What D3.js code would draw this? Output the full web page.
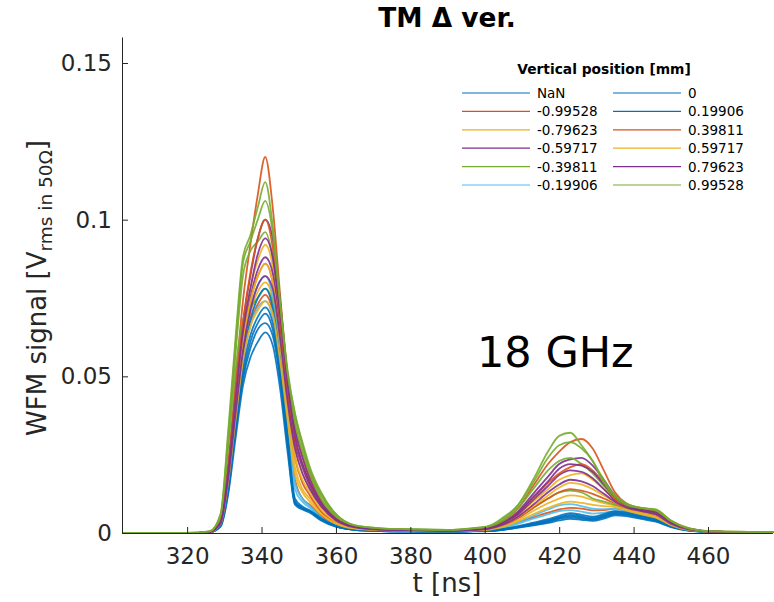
<!DOCTYPE html>
<html>
<head>
<meta charset="utf-8">
<script src="https://cdn.jsdelivr.net/npm/d3@7"></script>
<style>
  body { margin: 0; background: #fff; }
  svg { display: block; }
  text { font-family: 'DejaVu Sans', sans-serif; }
</style>
</head>
<body>
<div id="chart"></div>
<script>
// sample times of the waveforms [ns]
const timeNs = [302.5, 320, 326, 329, 331, 333, 335, 337, 339, 341,
  343, 345, 347, 349, 351, 353, 356, 360, 365, 372,
  380, 390, 397, 401, 405, 409, 413, 417, 420, 423,
  426, 429, 432, 435, 438, 442, 446, 450, 455, 462, 477.5];

const positionLabels = ['NaN', '-0.99528', '-0.79623', '-0.59717', '-0.39811', '-0.19906',
  '0', '0.19906', '0.39811', '0.59717', '0.79623', '0.99528'];

// WFM signal [mV rms], one or two waveforms per vertical position
const tracesNaN = [
  [0, 0, 0.2, 2.4, 13.5, 33, 50, 61, 67, 70, 65, 50, 29, 9.8, 7.9, 6.9, 4.3, 2.1, 1, 0.6, 0.5, 0.4, 0.6, 0.6, 1.1, 1.9, 2.8, 3.8, 4.8, 5.4, 5, 4.5, 5.3, 6.3, 6, 5, 4, 2.1, 0.8, 0.3, 0.2]
];
const tracesNeg099 = [
  [0, 0, 0.3, 4, 22, 48, 74, 92, 108, 120, 104, 76, 50, 34, 25, 18, 10.5, 5, 2.2, 1.3, 1, 0.8, 1.3, 1.8, 4, 8, 15, 22, 26, 29, 30, 27, 20, 13, 9.5, 8, 7.4, 4, 1.5, 0.5, 0.3],
  [0, 0, 0.2, 2.8, 15, 36, 55, 67, 73, 76, 71, 57, 37, 17, 11, 9, 5.5, 2.6, 1.2, 0.8, 0.6, 0.5, 0.8, 1, 2, 3.5, 5, 6.5, 7.5, 8, 7.8, 7.2, 7.3, 7.8, 7.2, 6, 4.8, 2.5, 0.9, 0.3, 0.2]
];
const tracesNeg080 = [
  [0, 0, 0.3, 3.5, 19, 42, 64, 78, 87, 92, 85, 64, 42, 27, 19, 14, 8.5, 4, 1.8, 1.1, 0.8, 0.7, 1, 1.4, 3, 6, 10, 14, 17, 18.5, 19, 17, 14, 10.5, 8.2, 7, 6, 3.1, 1.2, 0.4, 0.2],
  [0, 0, 0.3, 3.2, 17, 38, 58, 70, 77, 80, 75, 58, 38, 21, 14, 11, 6.5, 3.2, 1.5, 0.9, 0.7, 0.6, 0.9, 1.1, 2.3, 4.2, 7, 9.5, 11, 12, 11.6, 10.5, 9.5, 8.8, 7.5, 6.3, 5.2, 2.7, 1, 0.4, 0.2]
];
const tracesNeg060 = [
  [0, 0, 0.3, 3.6, 20, 44, 67, 82, 94, 100, 94, 74, 50, 33, 24, 17, 10, 4.8, 2.1, 1.2, 0.9, 0.7, 1.1, 1.6, 3.5, 7, 12.5, 18, 22, 23.5, 24, 21.5, 17, 12, 9, 7.6, 6.8, 3.5, 1.3, 0.4, 0.2],
  [0, 0, 0.3, 3.3, 18, 40, 61, 75, 84, 88, 83, 66, 45, 29, 21, 15, 9, 4.3, 1.9, 1.1, 0.8, 0.7, 1, 1.4, 3, 6, 10.5, 15, 18.5, 20, 19.5, 17.5, 14, 10.5, 8.5, 7.2, 6.2, 3.2, 1.2, 0.4, 0.2]
];
const tracesNeg040 = [
  [0, 0, 0.4, 5, 28, 57, 82, 90, 93, 96, 88, 70, 50, 37, 28, 20, 12, 5.5, 2.2, 1.4, 1.1, 0.9, 1.4, 2, 4, 8, 14, 20, 23, 24, 22, 19, 15, 11, 8.5, 7.5, 7, 3.5, 1.2, 0.4, 0.2],
  [0, 0, 0.4, 5, 27, 52, 68, 72, 75, 78, 74, 62, 48, 35, 26, 19, 11, 5, 2, 1.3, 1, 0.8, 1.2, 1.6, 3, 5, 8, 11, 13, 13.5, 13, 11, 10, 9, 8, 7, 6, 3, 1, 0.4, 0.2]
];
const tracesNeg020 = [
  [0, 0, 0.3, 3.5, 18, 40, 60, 72, 79, 82, 76, 60, 38, 16, 11, 8.5, 5, 2.5, 1.2, 0.8, 0.6, 0.5, 0.8, 1, 2, 3.5, 5.5, 7.5, 8.8, 9.2, 8.6, 7.8, 7.6, 7.8, 7, 5.8, 4.6, 2.4, 0.9, 0.3, 0.2],
  [0, 0, 0.2, 3, 15, 36, 55, 66, 72, 74, 69, 55, 35, 14, 10, 8, 4.8, 2.4, 1.1, 0.7, 0.6, 0.5, 0.7, 0.9, 1.6, 3, 4.6, 6, 7, 7.3, 6.8, 6.2, 6.5, 7, 6.4, 5.3, 4.2, 2.2, 0.8, 0.3, 0.2]
];
const tracesZero = [
  [0, 0, 0.2, 2, 12, 30, 47, 56, 61, 64, 60, 46, 26, 9, 7.5, 6.5, 4, 2, 1, 0.6, 0.5, 0.4, 0.6, 0.6, 1, 1.8, 2.6, 3.5, 4.5, 5, 4.6, 4.2, 5, 6, 5.8, 4.8, 3.8, 2, 0.8, 0.3, 0.2],
  [0, 0, 0.3, 3, 16, 37, 56, 68, 75, 78, 72, 55, 32, 11, 8.5, 7.2, 4.8, 2.3, 1.1, 0.7, 0.5, 0.4, 0.6, 0.7, 1.3, 2.2, 3.3, 4.4, 5.5, 6.3, 5.8, 5.2, 6, 7, 6.6, 5.5, 4.4, 2.3, 0.9, 0.3, 0.2]
];
const tracesPos020 = [
  [0, 0, 0.2, 2.5, 14, 34, 52, 63, 69, 72, 67, 52, 30, 10, 8, 7, 4.5, 2.2, 1.1, 0.7, 0.5, 0.4, 0.6, 0.7, 1.2, 2, 3, 4, 5, 5.8, 5.3, 4.8, 5.6, 6.6, 6.2, 5.2, 4.2, 2.2, 0.9, 0.3, 0.2],
  [0, 0, 0.2, 2.2, 13, 32, 49, 59, 65, 67, 63, 49, 28, 9.5, 7.8, 6.8, 4.2, 2.1, 1, 0.6, 0.5, 0.4, 0.5, 0.6, 1, 1.7, 2.4, 3.2, 4, 4.5, 4.2, 3.9, 4.6, 5.6, 5.4, 4.5, 3.6, 1.9, 0.7, 0.3, 0.2]
];
const tracesPos040 = [
  [0, 0, 0.3, 3.6, 20, 44, 67, 83, 94, 100, 91, 68, 45, 30, 22, 16, 9.5, 4.5, 2, 1.2, 0.9, 0.7, 1.1, 1.5, 3.2, 6.5, 11, 16, 19, 21, 22, 20, 16, 11, 8.5, 7.4, 6.6, 3.4, 1.3, 0.4, 0.2],
  [0, 0, 0.3, 3.2, 18, 40, 61, 74, 82, 86, 80, 62, 41, 24, 16, 12, 7, 3.4, 1.6, 1, 0.7, 0.6, 0.9, 1.2, 2.5, 4.8, 8, 11, 13, 14, 13.5, 12.5, 11, 9.5, 8, 6.8, 5.6, 2.9, 1.1, 0.4, 0.2]
];
const tracesPos060 = [
  [0, 0, 0.3, 3.4, 18, 40, 61, 74, 82, 86, 80, 61, 40, 24, 17, 13, 7.5, 3.6, 1.6, 1, 0.8, 0.6, 0.9, 1.3, 2.7, 5.2, 8.5, 12, 14.5, 16, 15.5, 14, 12, 9.8, 8, 6.7, 5.6, 2.9, 1.1, 0.4, 0.2],
  [0, 0, 0.2, 3, 16, 36, 55, 66, 71, 74, 70, 55, 36, 19, 13, 10, 6, 3, 1.4, 0.9, 0.7, 0.5, 0.8, 1, 2, 3.8, 6, 8, 9.3, 10, 9.6, 9, 8.6, 8.3, 7.2, 6, 4.9, 2.5, 0.9, 0.3, 0.2]
];
const tracesPos080 = [
  [0, 0, 0.3, 3.5, 19, 42, 64, 78, 89, 94, 88, 70, 48, 31, 22, 16, 9.5, 4.5, 2, 1.2, 0.9, 0.7, 1, 1.5, 3.2, 6.5, 11.5, 16.5, 20.5, 22, 21.5, 19.5, 15.5, 11.5, 8.8, 7.4, 6.5, 3.4, 1.3, 0.4, 0.2],
  [0, 0, 0.3, 3.2, 17, 38, 58, 71, 79, 82, 78, 62, 42, 27, 19, 14, 8.5, 4, 1.8, 1, 0.8, 0.6, 0.9, 1.3, 2.7, 5.3, 9, 13, 15.5, 17, 16.5, 15, 12.5, 10, 8.2, 7, 5.9, 3, 1.1, 0.4, 0.2]
];
const tracesPos099 = [
  [0, 0, 0.5, 6, 32, 62, 88, 95, 104, 112, 98, 74, 52, 38, 29, 21, 13, 6, 2.5, 1.5, 1.2, 1, 1.6, 2.2, 5, 9, 17, 26, 31, 32, 28, 23, 17, 12, 9.5, 8, 7.5, 4, 1.5, 0.5, 0.3],
  [0, 0, 0.5, 6, 30, 60, 86, 93, 100, 106, 96, 73, 51, 38, 28, 20, 12.5, 6, 2.4, 1.5, 1.2, 1, 1.5, 2.1, 4.5, 9, 16, 24, 28, 29, 27, 23, 16, 11.5, 9, 8, 7.2, 3.8, 1.4, 0.5, 0.3]
];

const seriesTraces = [tracesNaN, tracesNeg099, tracesNeg080, tracesNeg060, tracesNeg040, tracesNeg020,
  tracesZero, tracesPos020, tracesPos040, tracesPos060, tracesPos080, tracesPos099];

const xTicks = [320, 340, 360, 380, 400, 420, 440, 460];
const yTicks = [0, 0.05, 0.1, 0.15];

// MATLAB-ish palette, the same colour for +/- positions
const blue = '#0072BD', orange = '#D95319', yellow = '#EDB120',
  purple = '#7E2F8E', green = '#77AC30', lightBlue = '#4DBEEE';
const seriesColors = [blue, orange, yellow, purple, green, lightBlue,
  blue, blue, orange, yellow, purple, green];

const width = 774, height = 602;
const axisColor = '#262626';

const svg = d3.select('#chart').append('svg')
  .attr('width', width)
  .attr('height', height);

const x = d3.scaleLinear().domain([302.5, 477.2]).range([122, 772]);
const y = d3.scaleLinear().domain([0, 0.1583]).range([533, 37]);

// waveforms
const line = d3.line()
  .x((d, i) => x(timeNs[i]))
  .y(d => y(d / 1000))
  .curve(d3.curveMonotoneX);

const plot = svg.append('g').attr('class', 'traces');
seriesTraces.forEach((traces, s) => {
  traces.forEach(tr => {
    plot.append('path')
      .attr('d', line(tr))
      .attr('fill', 'none')
      .attr('stroke', seriesColors[s])
      .attr('stroke-width', 1.8)
      .attr('stroke-opacity', 0.9)
      .attr('stroke-linejoin', 'round');
  });
});

// axes, ticks pointing in
const xAxis = svg.append('g')
  .attr('transform', `translate(0,${y(0)})`)
  .call(d3.axisBottom(x).tickValues(xTicks).tickSizeInner(-6).tickSizeOuter(0).tickPadding(15));
const yAxis = svg.append('g')
  .attr('transform', `translate(${x.range()[0]},0)`)
  .call(d3.axisLeft(y).tickValues(yTicks).tickFormat(d3.format('~g')).tickSizeInner(-6).tickSizeOuter(0).tickPadding(10));

[xAxis, yAxis].forEach(g => {
  g.select('.domain').attr('stroke', axisColor).attr('stroke-width', 1);
  g.selectAll('.tick line').attr('stroke', axisColor);
  g.selectAll('.tick text')
    .attr('fill', axisColor)
    .style('font-family', "'DejaVu Sans', sans-serif")
    .style('font-size', '23px');
});

// labels
svg.append('text')
  .attr('x', 447).attr('y', 592)
  .attr('text-anchor', 'middle')
  .attr('fill', axisColor)
  .style('font-size', '26px')
  .text('t [ns]');

const yLabel = svg.append('text')
  .attr('transform', 'translate(46,288) rotate(-90)')
  .attr('text-anchor', 'middle')
  .attr('fill', axisColor)
  .style('font-size', '26px');
yLabel.append('tspan').text('WFM signal [V');
yLabel.append('tspan').attr('dy', 6).style('font-size', '18.5px').text('rms in 50Ω');
yLabel.append('tspan').attr('dy', -6).text(']');

svg.append('text')
  .attr('x', 447).attr('y', 27)
  .attr('text-anchor', 'middle')
  .attr('fill', '#000')
  .style('font-size', '26.4px')
  .style('font-weight', 'bold')
  .text('TM Δ ver.');

svg.append('text')
  .attr('x', 477).attr('y', 367)
  .attr('fill', '#000')
  .style('font-size', '43px')
  .text('18 GHz');

// legend, two columns
const legend = svg.append('g').attr('class', 'legend');
legend.append('text')
  .attr('x', 604).attr('y', 74)
  .attr('text-anchor', 'middle')
  .attr('fill', '#000')
  .style('font-size', '13.8px')
  .style('font-weight', 'bold')
  .text('Vertical position [mm]');

positionLabels.forEach((lab, i) => {
  const col = Math.floor(i / 6), row = i % 6;
  const x0 = col === 0 ? 462 : 613;
  const base = 98 + row * 18.4;
  legend.append('line')
    .attr('x1', x0).attr('x2', x0 + 68)
    .attr('y1', base - 5).attr('y2', base - 5)
    .attr('stroke', seriesColors[i])
    .attr('stroke-width', 1.2);
  legend.append('text')
    .attr('x', x0 + 75).attr('y', base)
    .attr('fill', '#000')
    .style('font-size', '13.5px')
    .text(lab);
});
</script>
</body>
</html>
